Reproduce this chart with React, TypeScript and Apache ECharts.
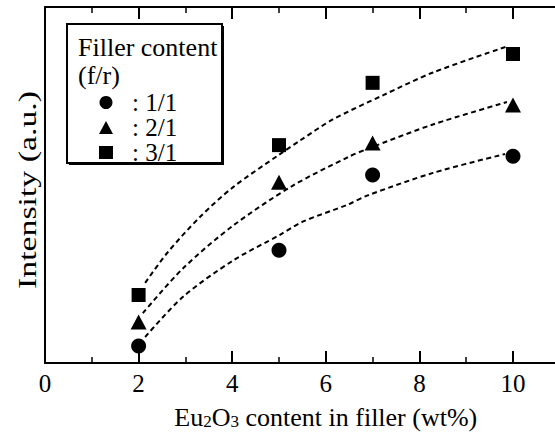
import React, { useEffect, useRef } from "react";
import * as echarts from "echarts";

const FONT = "Liberation Serif";

// Eu2O3 content in the filler (wt%) at which intensity was measured
const wtPercent = [2, 5, 7, 10];

// Measured intensity (a.u.) for each filler/resin ratio
const intensity11 = [4.8, 31.7, 52.8, 58.1];
const intensity21 = [11.5, 50.8, 61.8, 72.5];
const intensity31 = [19.1, 61.2, 78.7, 86.8];

// Dashed trend curves traced through each series
const trend11X = [2.14, 2.95, 4.02, 5.02, 5.49, 6.47, 6.88, 8.29, 9.83];
const trend11Y = [7.3, 18.6, 28.8, 36.0, 39.6, 44.5, 47.0, 53.4, 58.7];
const trend21X = [2.09, 2.95, 4.02, 5.28, 6.47, 6.88, 8.29, 9.87];
const trend21Y = [14.0, 26.6, 38.6, 49.7, 57.8, 60.1, 67.0, 73.3];
const trend31X = [2.14, 2.61, 3.31, 4.02, 5.0, 5.45, 6.15, 7.22, 8.29, 9.89];
const trend31Y = [22.5, 30.9, 41.0, 49.4, 58.5, 62.5, 68.4, 75.2, 81.6, 89.0];

const ratioNames = ["1/1", "2/1", "3/1"];

const zip = (xs: number[], ys: number[]) => xs.map((x, i) => [x, ys[i]]);

const tickAxisCommon = {
  type: "value" as const,
  min: 0,
  max: 12,
  interval: 2,
  splitLine: { show: false },
  axisLine: { show: true, onZero: false, lineStyle: { color: "#000", width: 2 } },
  axisTick: { show: true, inside: true, length: 12, lineStyle: { color: "#000", width: 2 } },
  minorTick: { show: true, splitNumber: 2, length: 6, lineStyle: { color: "#000", width: 1.5 } },
  minorSplitLine: { show: false },
};

export default function App() {
  const ref = useRef<HTMLDivElement>(null);

  useEffect(() => {
    if (!ref.current) return;
    const chart = echarts.init(ref.current, undefined, { renderer: "svg" });

    const dash = { color: "#000", width: 2, type: [5, 3.5] as number[] };
    const trend = (name: string, xs: number[], ys: number[]) => ({
      name: name + " trend",
      type: "line",
      data: zip(xs, ys),
      smooth: 0.3,
      showSymbol: false,
      symbol: "none",
      silent: true,
      lineStyle: dash,
      z: 1,
    });
    const marks = (name: string, ys: number[], symbol: string, size: number | number[]) => ({
      name,
      type: "scatter",
      data: zip(wtPercent, ys),
      symbol,
      symbolSize: size,
      itemStyle: { color: "#000", opacity: 1 },
      z: 3,
    });

    const plainText = (text: string, x: number, y: number) => ({
      type: "text",
      z: 7,
      x,
      y,
      style: {
        text,
        fill: "#000",
        fontSize: 26,
        fontFamily: FONT,
        align: "left",
        verticalAlign: "middle",
        textAlign: "left",
        textVerticalAlign: "middle",
      },
    });

    chart.setOption({
      animation: false,
      backgroundColor: "#fff",
      // 12 units wide so that 0..10 spans 468 px; the part past 11 runs off the page
      grid: { left: 45, top: 7, width: 561.6, height: 356, containLabel: false, outerBoundsMode: "none" },
      xAxis: [
        {
          ...tickAxisCommon,
          position: "bottom",
          axisLabel: {
            margin: 8,
            fontSize: 25,
            fontFamily: FONT,
            color: "#000",
            formatter: (v: number) => (v <= 10 ? String(v) : ""),
          },
          name: "Eu{s|2}O{s|3} content in filler (wt%)",
          nameLocation: "middle",
          nameGap: 41,
          nameTextStyle: {
            fontSize: 26,
            fontFamily: FONT,
            color: "#000",
            lineHeight: 26,
            rich: {
              s: { fontSize: 17, fontFamily: FONT, color: "#000", lineHeight: 10, verticalAlign: "bottom" },
            },
          },
        },
        {
          ...tickAxisCommon,
          position: "top",
          axisLabel: { show: false },
        },
      ],
      yAxis: {
        type: "value",
        min: 0,
        max: 100,
        axisLine: { show: true, onZero: false, lineStyle: { color: "#000", width: 2 } },
        axisTick: { show: false },
        axisLabel: { show: false },
        splitLine: { show: false },
      },
      legend: {
        show: true,
        orient: "vertical",
        left: 94,
        top: 85,
        z: 6,
        itemWidth: 14,
        itemHeight: 13,
        itemGap: 0,
        selectedMode: false,
        data: ratioNames,
        formatter: (n: string) => `{t|: ${n}}`,
        textStyle: {
          color: "#000",
          fontFamily: FONT,
          fontSize: 25,
          rich: {
            t: { color: "#000", fontFamily: FONT, fontSize: 25, lineHeight: 24, padding: [0, 0, 0, 14] },
          },
        },
      },
      graphic: [
        { type: "rect", z: 3, shape: { x: 69, y: 26, width: 155, height: 139 }, style: { fill: "#000" } },
        {
          type: "rect",
          z: 4,
          shape: { x: 67, y: 24, width: 155, height: 139 },
          style: { fill: "#fff", stroke: "#000", lineWidth: 2 },
        },
        plainText("Filler content", 78, 47),
        plainText("(f/r)", 78, 75),
        {
          type: "text",
          z: 7,
          x: 27,
          y: 190,
          rotation: Math.PI / 2,
          scaleX: 1.3,
          style: {
            text: "Intensity (a.u.)",
            fill: "#000",
            fontSize: 26,
            fontFamily: FONT,
            align: "center",
            verticalAlign: "middle",
            textAlign: "center",
            textVerticalAlign: "middle",
          },
        },
      ],
      series: [
        trend(ratioNames[0], trend11X, trend11Y),
        trend(ratioNames[1], trend21X, trend21Y),
        trend(ratioNames[2], trend31X, trend31Y),
        marks(ratioNames[0], intensity11, "circle", 15),
        marks(ratioNames[1], intensity21, "triangle", [16, 15]),
        marks(ratioNames[2], intensity31, "rect", 14),
      ],
    });

    return () => chart.dispose();
  }, []);

  return (
    <div
      ref={ref}
      style={{ position: "fixed", left: 0, top: 0, width: 555, height: 434, background: "#fff" }}
    />
  );
}
